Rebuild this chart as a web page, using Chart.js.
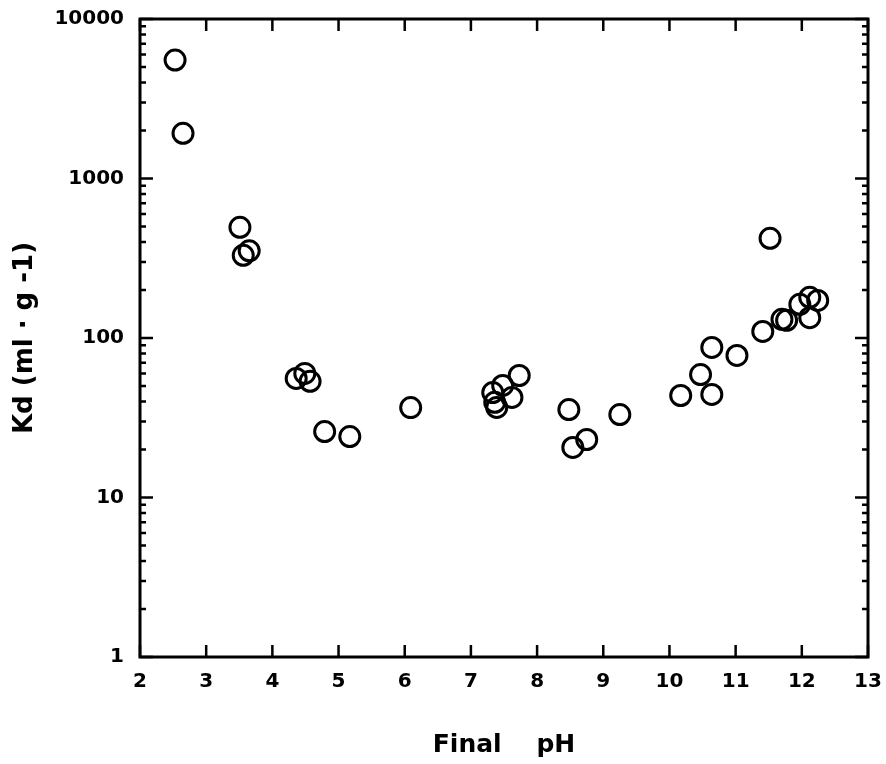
<!DOCTYPE html>
<html>
<head>
<meta charset="utf-8">
<script src="https://cdn.jsdelivr.net/npm/chart.js@4"></script>
<style>
  html, body { margin: 0; padding: 0; background: #fff; }
  #wrap { width: 886px; height: 764px; }
</style>
</head>
<body>
<div id="wrap"><canvas id="kdChart"></canvas></div>
<script>
// values
const phValues = [2.53, 2.65, 3.51, 3.56, 3.65, 4.36, 4.49, 4.57, 4.79, 5.17,
    6.09, 7.33, 7.36, 7.39, 7.48, 7.62, 7.73, 8.48, 8.54, 8.75,
    9.25, 10.17, 10.47, 10.64, 10.64, 11.02, 11.41, 11.52, 11.70, 11.77,
    11.97, 12.12, 12.12, 12.24]
const kdValues = [5530, 1920, 494, 330, 352, 55.8, 60, 53.5, 25.9, 24.1,
    36.6, 45.5, 39.5, 36.7, 50.4, 42.4, 58.2, 35.6, 20.6, 23.1,
    33.1, 43.6, 59, 44.3, 87.3, 77.8, 110, 422, 131, 129,
    162.6, 180, 134, 172]
const yDecades = [1, 10, 100, 1000, 10000]
const xTicks = [2, 3, 4, 5, 6, 7, 8, 9, 10, 11, 12, 13]

const points = phValues.map((x, i) => ({ x: x, y: kdValues[i] }))

// box + inward ticks on all four sides
const frameTicks = {
    id: 'frameTicks',
    afterDraw(chart) {
        const ctx = chart.ctx
        const a = chart.chartArea
        const xs = chart.scales.x
        const ys = chart.scales.y
        ctx.save()
        ctx.strokeStyle = '#000'
        ctx.lineWidth = 3
        ctx.strokeRect(a.left, a.top, a.right - a.left, a.bottom - a.top)
        ctx.lineWidth = 2.5
        ctx.beginPath()
        xs.ticks.forEach(t => {
            const px = xs.getPixelForValue(t.value)
            ctx.moveTo(px, a.bottom); ctx.lineTo(px, a.bottom - 12)
            ctx.moveTo(px, a.top); ctx.lineTo(px, a.top + 12)
        })
        ys.ticks.forEach(t => {
            const py = ys.getPixelForValue(t.value)
            const len = yDecades.includes(t.value) ? 13 : 6
            ctx.moveTo(a.left, py); ctx.lineTo(a.left + len, py)
            ctx.moveTo(a.right, py); ctx.lineTo(a.right - len, py)
        })
        ctx.stroke()
        ctx.restore()
    }
}

const kdCtx = document.getElementById('kdChart').getContext('2d')
const kdChart = new Chart(kdCtx, {
    type: 'scatter',
    data: {
        datasets: [{
            data: points,
            pointStyle: 'circle',
            pointRadius: 10,
            pointHoverRadius: 10,
            pointBorderWidth: 3,
            pointBackgroundColor: 'rgba(0,0,0,0)',
            pointBorderColor: '#000'
        }]
    },
    options: {
        maintainAspectRatio: false,
        animation: false,
        layout: {
            padding: { top: 19, right: 18, left: 0, bottom: 0 }
        },
        plugins: {
            legend: { display: false },
            tooltip: { enabled: false }
        },
        scales: {
            x: {
                type: 'linear',
                min: 2,
                max: 13,
                grid: { display: false, drawTicks: false },
                border: { display: false },
                afterBuildTicks: s => { s.ticks = xTicks.map(v => ({ value: v })) },
                afterFit: s => {
                    s.height = 107
                    s.paddingLeft = 0
                    s.paddingRight = 0
                },
                ticks: {
                    padding: 13,
                    color: '#000',
                    autoSkip: false,
                    maxRotation: 0,
                    font: { family: 'DejaVu Sans', size: 20, weight: 'bold' }
                },
                title: {
                    display: true,
                    text: 'Final    pH',
                    color: '#000',
                    padding: { top: 0, bottom: 4 },
                    font: { family: 'DejaVu Sans', size: 25, weight: 'bold' }
                }
            },
            y: {
                type: 'logarithmic',
                min: 1,
                max: 10000,
                grid: { display: false, drawTicks: false },
                border: { display: false },
                afterBuildTicks: s => {
                    const list = []
                    yDecades.forEach(d => {
                        for (let m = 1; m <= 9; m++) {
                            if (d * m <= 10000) list.push({ value: d * m })
                        }
                    })
                    s.ticks = list
                },
                afterFit: s => {
                    s.width = 140
                    s.paddingTop = 0
                    s.paddingBottom = 0
                },
                ticks: {
                    padding: 16,
                    color: '#000',
                    autoSkip: false,
                    font: { family: 'DejaVu Sans', size: 20, weight: 'bold' },
                    callback: v => yDecades.includes(v) ? String(v) : ''
                },
                title: {
                    display: true,
                    text: 'Kd (ml · g -1)',
                    color: '#000',
                    padding: { top: 10, bottom: 0 },
                    font: { family: 'DejaVu Sans', size: 26, weight: 'bold' }
                }
            }
        }
    },
    plugins: [frameTicks]
})
</script>
</body>
</html>
